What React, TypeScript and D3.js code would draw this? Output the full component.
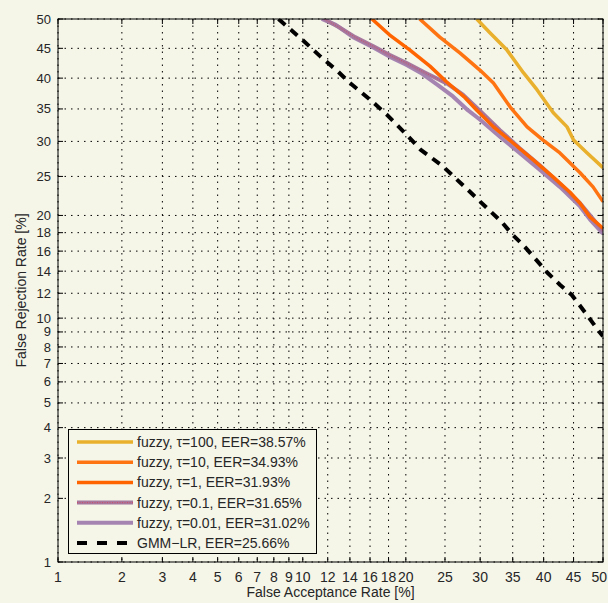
import React, { useEffect, useRef } from 'react';
import * as d3 from 'd3';

// Tick values (percent) used on both axes of the DET plot
const xTicks = [1, 2, 3, 4, 5, 6, 7, 8, 9, 10, 12, 14, 16, 18, 20, 25, 30, 35, 40, 45, 50];
const yTicks = [1, 2, 3, 4, 5, 6, 7, 8, 9, 10, 12, 14, 16, 18, 20, 25, 30, 35, 40, 45, 50];

// Curves (FAR %, FRR %)
const fuzzy100Far = [29.5, 31.5, 34.1, 36.7, 38.9, 41.6, 43.9, 45, 47.3, 50];
const fuzzy100Frr = [50, 47.6, 44.7, 40.9, 38.1, 34.4, 32.2, 30.2, 28.3, 26.2];

const fuzzy10Far = [21.7, 24.3, 27.1, 30, 32, 34.6, 37.3, 39.9, 42.7, 46.1, 48.3, 50];
const fuzzy10Frr = [50, 46.9, 44.2, 41.3, 39.2, 35.3, 32.2, 30.2, 28.3, 25.5, 23.6, 21.7];

const fuzzy1Far = [16.2, 18.1, 20.5, 23, 25.2, 27.8, 29.5, 32, 35, 38.3, 41.6, 44.4, 46.1, 47.8, 50];
const fuzzy1Frr = [50, 47.3, 44.7, 42, 39.4, 36.8, 34.8, 32.2, 29.8, 27.3, 24.9, 22.9, 21.5, 19.8, 18.5];

const fuzzy01Far = [11.7, 13, 14.5, 16.3, 18.1, 20.1, 22.4, 25.3, 27.5, 30, 33, 36.1, 39.4, 42.7, 46.1, 50];
const fuzzy01Frr = [50, 48.6, 46.9, 45.4, 43.9, 42.5, 40.9, 39.1, 37.3, 34.7, 31.7, 29, 26.5, 24, 21.5, 18.2];

const fuzzy001Far = [11.5, 12.7, 14.3, 16.3, 18.1, 20.1, 21.8, 24, 26.1, 28.2, 30, 33, 36.1, 39.4, 42.7, 46.1, 47.8, 50];
const fuzzy001Frr = [50, 49, 46.9, 45.2, 43.6, 42.2, 40.9, 38.9, 37, 34.8, 33.3, 30.7, 28.3, 25.9, 23.6, 21.1, 19.5, 17.9];

const gmmFar = [8.3, 9.8, 11.4, 12.9, 14, 16, 17.8, 20.1, 21.8, 24.7, 28.1, 30, 33.3, 35, 37, 40.55, 42.7, 44.7, 46.6, 49.4, 50];
const gmmFrr = [50, 46.8, 43.6, 41.1, 39.2, 36.5, 34.1, 31, 28.8, 26.4, 23.3, 21.7, 19.2, 17.75, 16.4, 13.9, 12.75, 11.85, 10.65, 9, 8.7];

const legendLabels = [
  'fuzzy, τ=100, EER=38.57%',
  'fuzzy, τ=10, EER=34.93%',
  'fuzzy, τ=1, EER=31.93%',
  'fuzzy, τ=0.1, EER=31.65%',
  'fuzzy, τ=0.01, EER=31.02%',
  'GMM\u2212LR, EER=25.66%',
];

// inverse normal CDF (Acklam)
const probit = (p: number) => {
  const a = [-39.69683028665376, 220.9460984245205, -275.9285104469687, 138.357751867269, -30.66479806614716, 2.506628277459239];
  const b = [-54.47609879822406, 161.5858368580409, -155.6989798598866, 66.80131188771972, -13.28068155288572];
  const c = [-0.007784894002430293, -0.3223964580411365, -2.400758277161838, -2.549732539343734, 4.374664141464968, 2.938163982698783];
  const d = [0.007784695709041462, 0.3224671290700398, 2.445134137142996, 3.754408661907416];
  const pl = 0.02425;
  if (p < pl) {
    const q = Math.sqrt(-2 * Math.log(p));
    return (((((c[0] * q + c[1]) * q + c[2]) * q + c[3]) * q + c[4]) * q + c[5]) /
      ((((d[0] * q + d[1]) * q + d[2]) * q + d[3]) * q + 1);
  }
  if (p > 1 - pl) {
    const q = Math.sqrt(-2 * Math.log(1 - p));
    return -(((((c[0] * q + c[1]) * q + c[2]) * q + c[3]) * q + c[4]) * q + c[5]) /
      ((((d[0] * q + d[1]) * q + d[2]) * q + d[3]) * q + 1);
  }
  const q = p - 0.5;
  const r = q * q;
  return (((((a[0] * r + a[1]) * r + a[2]) * r + a[3]) * r + a[4]) * r + a[5]) * q /
    (((((b[0] * r + b[1]) * r + b[2]) * r + b[3]) * r + b[4]) * r + 1);
};

const App = () => {
  const svgRef = useRef<SVGSVGElement>(null);

  useEffect(() => {
    document.body.style.margin = '0';
    const W = 608, H = 603;
    const m = { left: 58, right: 5, top: 19, bottom: 41 };
    const innerW = W - m.left - m.right;
    const innerH = H - m.top - m.bottom;
    const bg = '#f5f5e8';
    const font = 'Liberation Sans, Arial, sans-serif';
    const fs = 14;
    const tickFs = 13;

    const svg = d3.select(svgRef.current);
    svg.selectAll('*').remove();
    svg.attr('width', W).attr('height', H);

    svg.append('rect').attr('width', W).attr('height', H).attr('fill', bg);

    const xz = d3.scaleLinear().domain([probit(0.01), probit(0.5)]).range([0, innerW]);
    const yz = d3.scaleLinear().domain([probit(0.01), probit(0.5)]).range([innerH, 0]);
    const x = (v: number) => xz(probit(v / 100));
    const y = (v: number) => yz(probit(v / 100));

    const g = svg.append('g').attr('transform', `translate(${m.left},${m.top})`);

    // grid
    xTicks.forEach(t => {
      g.append('line')
        .attr('x1', x(t)).attr('x2', x(t)).attr('y1', 0).attr('y2', innerH)
        .attr('stroke', '#000').attr('stroke-width', 1)
        .attr('stroke-dasharray', '1.5,5');
    });
    yTicks.forEach(t => {
      g.append('line')
        .attr('y1', y(t)).attr('y2', y(t)).attr('x1', 0).attr('x2', innerW)
        .attr('stroke', '#000').attr('stroke-width', 1)
        .attr('stroke-dasharray', '1.5,5');
    });

    // inward ticks on all sides
    const tl = 5;
    xTicks.forEach(t => {
      g.append('line').attr('x1', x(t)).attr('x2', x(t)).attr('y1', innerH).attr('y2', innerH - tl).attr('stroke', '#000');
      g.append('line').attr('x1', x(t)).attr('x2', x(t)).attr('y1', 0).attr('y2', tl).attr('stroke', '#000');
    });
    yTicks.forEach(t => {
      g.append('line').attr('y1', y(t)).attr('y2', y(t)).attr('x1', 0).attr('x2', tl).attr('stroke', '#000');
      g.append('line').attr('y1', y(t)).attr('y2', y(t)).attr('x1', innerW).attr('x2', innerW - tl).attr('stroke', '#000');
    });

    // tick labels
    xTicks.forEach((t, i) => {
      const last = i === xTicks.length - 1;
      svg.append('text')
        .attr('x', last ? W - 1 : m.left + x(t)).attr('y', H - m.bottom + 20)
        .attr('text-anchor', last ? 'end' : 'middle')
        .attr('font-family', font).attr('font-size', tickFs + 1).attr('fill', '#262626')
        .text(t);
    });
    yTicks.forEach(t => {
      svg.append('text')
        .attr('x', m.left - 7).attr('y', m.top + y(t))
        .attr('dy', '0.35em')
        .attr('text-anchor', 'end')
        .attr('font-family', font).attr('font-size', tickFs).attr('fill', '#262626')
        .text(t);
    });

    svg.append('text')
      .attr('x', m.left + innerW / 2).attr('y', H - 6)
      .attr('text-anchor', 'middle')
      .attr('font-family', font).attr('font-size', fs).attr('fill', '#262626')
      .text('False Acceptance Rate [%]');
    svg.append('text')
      .attr('transform', `translate(26,${m.top + innerH / 2}) rotate(-90)`)
      .attr('text-anchor', 'middle')
      .attr('font-family', font).attr('font-size', fs).attr('fill', '#262626')
      .text('False Rejection Rate [%]');

    // curves
    svg.append('defs').append('clipPath').attr('id', 'plot-clip')
      .append('rect').attr('width', innerW).attr('height', innerH);

    const line = d3.line<[number, number]>()
      .x(d => x(d[0]))
      .y(d => y(d[1]));

    const zip = (a: number[], b: number[]) => a.map((v, i) => [v, b[i]] as [number, number]);

    const series = [
      { far: fuzzy100Far, frr: fuzzy100Frr, color: '#e8b02c', width: 3.5, dash: null, overlay: null },
      { far: fuzzy10Far, frr: fuzzy10Frr, color: '#ff7412', width: 3.5, dash: null, overlay: null },
      { far: fuzzy1Far, frr: fuzzy1Frr, color: '#ff6400', width: 3.5, dash: null, overlay: null },
      { far: fuzzy01Far, frr: fuzzy01Frr, color: '#a6789e', width: 4, dash: null, overlay: '#d8405a' },
      { far: fuzzy001Far, frr: fuzzy001Frr, color: '#a584b2', width: 4, dash: null, overlay: null },
      { far: gmmFar, frr: gmmFrr, color: '#000', width: 4, dash: '9,7', overlay: null },
    ];

    const plot = g.append('g').attr('clip-path', 'url(#plot-clip)');
    // draw back to front so the purple lines and dashed line sit on top like the original
    [0, 1, 4, 3, 2, 5].forEach(i => {
      const s = series[i];
      const p = plot.append('path')
        .datum(zip(s.far, s.frr))
        .attr('d', line)
        .attr('fill', 'none')
        .attr('stroke', s.color)
        .attr('stroke-width', s.width)
        .attr('stroke-linejoin', 'round');
      if (s.dash) p.attr('stroke-dasharray', s.dash);
      if (s.overlay) {
        plot.append('path')
          .datum(zip(s.far, s.frr))
          .attr('d', line)
          .attr('fill', 'none')
          .attr('stroke', s.overlay)
          .attr('stroke-width', 0.8)
          .attr('stroke-dasharray', '1,1.5');
      }
    });

    // box
    g.append('rect').attr('width', innerW).attr('height', innerH)
      .attr('fill', 'none').attr('stroke', '#000').attr('stroke-width', 1);

    // legend
    const lg = svg.append('g');
    lg.append('rect')
      .attr('x', 68.5).attr('y', 429.5).attr('width', 248).attr('height', 124)
      .attr('fill', bg).attr('stroke', '#000').attr('stroke-width', 1);
    legendLabels.forEach((lab, i) => {
      const s = series[i];
      const ly = 442 + i * 20.2;
      lg.append('line')
        .attr('x1', 77).attr('x2', 133).attr('y1', ly).attr('y2', ly)
        .attr('stroke', s.color).attr('stroke-width', s.width)
        .attr('stroke-dasharray', s.dash ? '10,10' : null);
      if (s.overlay) {
        lg.append('line')
          .attr('x1', 77).attr('x2', 133).attr('y1', ly).attr('y2', ly)
          .attr('stroke', s.overlay).attr('stroke-width', 0.8)
          .attr('stroke-dasharray', '1,1.5');
      }
      lg.append('text')
        .attr('x', 137).attr('y', ly).attr('dy', '0.35em')
        .attr('font-family', font).attr('font-size', fs).attr('fill', '#262626')
        .text(lab);
    });
  }, []);

  return <svg ref={svgRef} style={{ display: 'block' }} />;
};

export default App;
